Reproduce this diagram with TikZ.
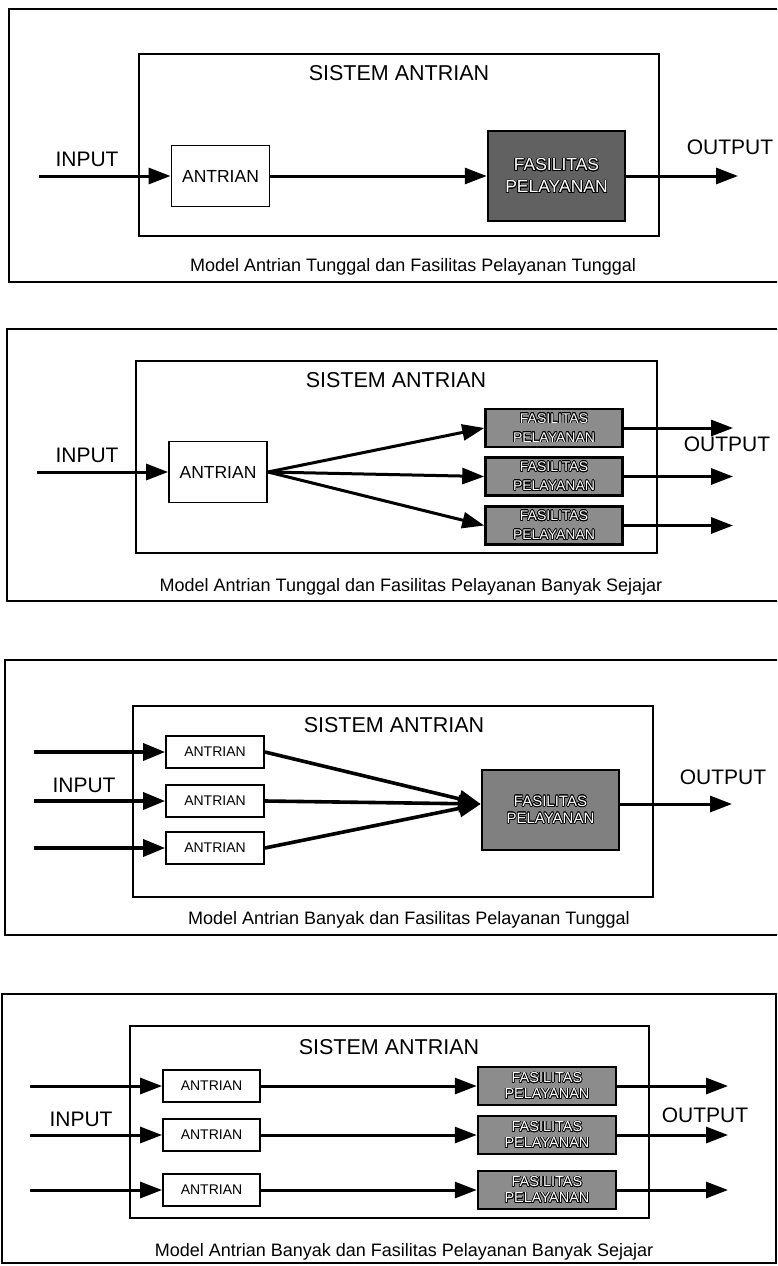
\documentclass[tikz,border=0pt]{standalone}
\usepackage{fontspec}
\setmainfont{Liberation Sans}
\usepackage{contour}
\contourlength{0.7pt}
\usetikzlibrary{arrows.meta}
\newcommand\fasl{\contour{black}{FASILITAS}\\\contour{black}{PELAYANAN}}
\tikzset{
  outerframe/.style={line width=1.8pt},
  sysbox/.style={draw,line width=1.8pt,inner sep=0pt},
  ttl/.style={font=\fontsize{21.5}{24}\selectfont},
  lbl/.style={font=\fontsize{21}{24}\selectfont},
  captxt/.style={font=\fontsize{18}{20}\selectfont},
  qbox/.style={draw,fill=white,line width=1.8pt,inner sep=0pt,font=\fontsize{17.5}{20}\selectfont},
  qsmall/.style={qbox,font=\fontsize{14}{16}\selectfont,minimum width=98pt,minimum height=32pt},
  facbox/.style={draw,line width=2.5pt,inner sep=0pt,align=center,text=white},
  fdark/.style={facbox,fill=black!62},
  flight/.style={facbox,fill=black!45,minimum width=137pt,minimum height=38pt},
  arr/.style={line width=3pt,-{Triangle[length=22pt,width=16pt]}},
  arrb/.style={line width=3.6pt,-{Triangle[length=22pt,width=17pt]}}
}
\begin{document}
\begin{tikzpicture}[x=1pt,y=-1pt]
\useasboundingbox (0,0) rectangle (777,1266);
\fill[white] (0,0) rectangle (777,1266);
\clip (0,0) rectangle (777,1266);

% ---------- Panel 1 ----------
\draw[outerframe] (9,9) rectangle (790,282);
\node[sysbox,minimum width=520pt,minimum height=182pt] (s1) at (399,145) {};
\node[ttl] (t1) at (399,73) {SISTEM ANTRIAN};
\node[qbox,minimum width=98pt,minimum height=61pt] (q1) at (220.5,176) {ANTRIAN};
\node[fdark,minimum width=137pt,minimum height=90pt,font=\fontsize{17.5}{22}\selectfont] (f1) at (556.5,176) {\fasl};
\coordinate (i1) at (39,176);
\coordinate (o1) at (738,176);
\draw[arr] (i1) -- (q1.west);
\draw[arr] (q1.east) -- (f1.west);
\draw[arr] (f1.east) -- (o1);
\node[lbl] (in1) at (87,159) {INPUT};
\node[lbl] (out1) at (730,147) {OUTPUT};
\node[captxt] (c1) at (413,267) {Model Antrian Tunggal dan Fasilitas Pelayanan Tunggal};

% ---------- Panel 2 ----------
\draw[outerframe] (7,329) rectangle (790,601);
\node[sysbox,minimum width=521pt,minimum height=192pt] (s2) at (396.5,457) {};
\node[ttl] (t2) at (396,380) {SISTEM ANTRIAN};
\node[qbox,minimum width=98pt,minimum height=61pt] (q2) at (218,472) {ANTRIAN};
\node[flight,font=\fontsize{14}{19}\selectfont] (f2a) at (554,428) {\fasl};
\node[flight,font=\fontsize{14}{19}\selectfont] (f2b) at (554,476.5) {\fasl};
\node[flight,font=\fontsize{14}{19}\selectfont] (f2c) at (554,525.5) {\fasl};
\coordinate (i2) at (37,472);
\coordinate (o2a) at (733,428);
\coordinate (o2b) at (733,476.5);
\coordinate (o2c) at (733,525.5);
\draw[arr] (i2) -- (q2.west);
\draw[arr] (q2.east) -- (f2a.west);
\draw[arr] (q2.east) -- (f2b.west);
\draw[arr] (q2.east) -- (f2c.west);
\draw[arr] (f2a.east) -- (o2a);
\draw[arr] (f2b.east) -- (o2b);
\draw[arr] (f2c.east) -- (o2c);
\node[lbl] (in2) at (87,455) {INPUT};
\node[lbl] (out2) at (727,444) {OUTPUT};
\node[captxt] (c2) at (411,587) {Model Antrian Tunggal dan Fasilitas Pelayanan Banyak Sejajar};

% ---------- Panel 3 ----------
\draw[outerframe] (5,660) rectangle (790,935);
\node[sysbox,minimum width=520pt,minimum height=191pt] (s3) at (393,801.5) {};
\node[ttl] (t3) at (394,725) {SISTEM ANTRIAN};
\node[qsmall] (q3a) at (215,752) {ANTRIAN};
\node[qsmall] (q3b) at (215,801) {ANTRIAN};
\node[qsmall] (q3c) at (215,848) {ANTRIAN};
\node[fdark,fill=black!50,minimum width=137pt,minimum height=80pt,font=\fontsize{15}{17}\selectfont] (f3) at (550.5,810) {\fasl};
\coordinate (i3a) at (34,752);
\coordinate (i3b) at (34,801);
\coordinate (i3c) at (34,848);
\coordinate (o3) at (732,804);
\draw[arrb] (i3a) -- (q3a.west);
\draw[arrb] (i3b) -- (q3b.west);
\draw[arrb] (i3c) -- (q3c.west);
\draw[arrb] (q3a.east) -- ([yshift=6pt]f3.west);
\draw[arrb] (q3b.east) -- ([yshift=6pt]f3.west);
\draw[arrb] (q3c.east) -- ([yshift=6pt]f3.west);
\draw[arr] ([yshift=6pt]f3.east) -- (o3);
\node[lbl] (in3) at (84,785) {INPUT};
\node[lbl] (out3) at (723,777) {OUTPUT};
\node[captxt] (c3) at (409,920) {Model Antrian Banyak dan Fasilitas Pelayanan Tunggal};

% ---------- Panel 4 ----------
\draw[outerframe] (2,994) rectangle (776,1263);
\node[sysbox,minimum width=519pt,minimum height=192pt] (s4) at (389.5,1122) {};
\node[ttl] (t4) at (389,1047) {SISTEM ANTRIAN};
\node[qsmall,minimum width=97pt] (q4a) at (211.5,1086) {ANTRIAN};
\node[qsmall,minimum width=97pt] (q4b) at (211.5,1135) {ANTRIAN};
\node[qsmall,minimum width=97pt] (q4c) at (211.5,1190) {ANTRIAN};
\node[flight,minimum width=138pt,font=\fontsize{14.5}{16}\selectfont] (f4a) at (547,1086) {\fasl};
\node[flight,minimum width=138pt,font=\fontsize{14.5}{16}\selectfont] (f4b) at (547,1135) {\fasl};
\node[flight,minimum width=138pt,font=\fontsize{14.5}{16}\selectfont] (f4c) at (547,1190) {\fasl};
\coordinate (i4a) at (30,1086);
\coordinate (i4b) at (30,1135);
\coordinate (i4c) at (30,1190);
\coordinate (o4a) at (728,1086);
\coordinate (o4b) at (728,1135);
\coordinate (o4c) at (728,1190);
\draw[arr] (i4a) -- (q4a.west);
\draw[arr] (i4b) -- (q4b.west);
\draw[arr] (i4c) -- (q4c.west);
\draw[arr] (q4a.east) -- (f4a.west);
\draw[arr] (q4b.east) -- (f4b.west);
\draw[arr] (q4c.east) -- (f4c.west);
\draw[arr] (f4a.east) -- (o4a);
\draw[arr] (f4b.east) -- (o4b);
\draw[arr] (f4c.east) -- (o4c);
\node[lbl] (in4) at (81,1119) {INPUT};
\node[lbl] (out4) at (705,1115) {OUTPUT};
\node[captxt] (c4) at (404,1252) {Model Antrian Banyak dan Fasilitas Pelayanan Banyak Sejajar};
\end{tikzpicture}
\end{document}
